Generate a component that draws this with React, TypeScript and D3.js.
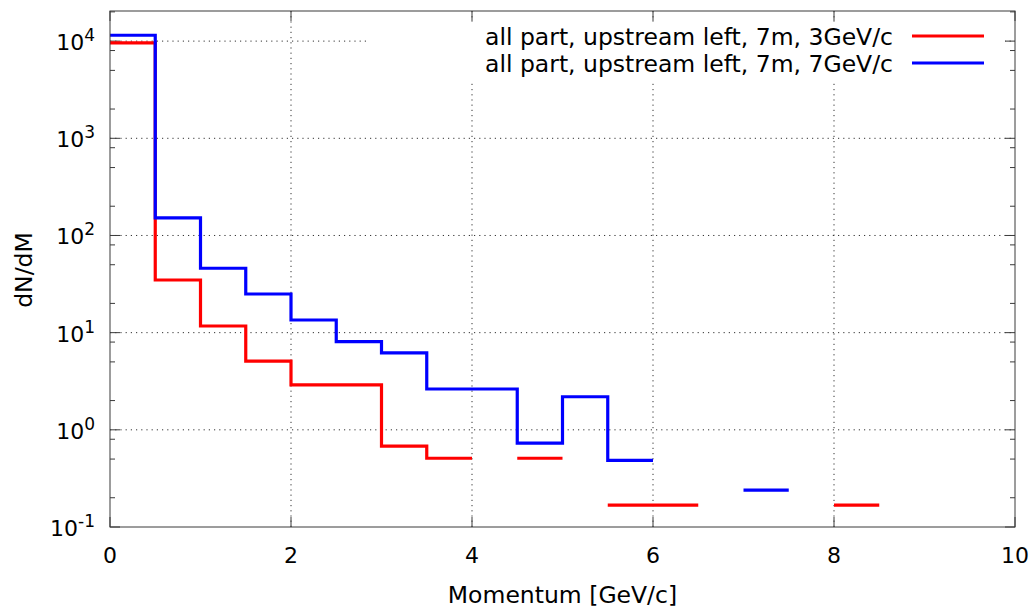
import React from "react";
import * as d3 from "d3";

// Momentum bins (lower edges, GeV/c), each 0.5 GeV/c wide
const binStarts = [0, 0.5, 1, 1.5, 2, 2.5, 3, 3.5, 4, 4.5, 5, 5.5, 6, 6.5, 7, 7.5, 8, 8.5, 9, 9.5];
const binWidth = 0.5;

// dN/dM per bin; null marks an empty bin (no entry on the log scale)
const red3GeV: (number | null)[] = [9600, 34.8, 11.7, 5.1, 2.9, 2.9, 0.68, 0.51, null, 0.51, null, 0.168, 0.168, null, null, null, 0.168, null, null, null];
const blue7GeV: (number | null)[] = [11500, 152, 46, 25, 13.5, 8.1, 6.2, 2.63, 2.63, 0.73, 2.19, 0.485, null, null, 0.24, null, null, null, null, null];

const seriesLabels = ["all part, upstream left, 7m, 3GeV/c", "all part, upstream left, 7m, 7GeV/c"];
const seriesColors = ["#ff0000", "#0000ff"];

const xTicks = [0, 2, 4, 6, 8, 10];
const yExponents = [-1, 0, 1, 2, 3, 4];
const yMinorMantissas = [2, 5, 8];

const W = 1036;
const H = 610;
const M = { left: 110, right: 1015, top: 11, bottom: 527 };
const FONT = "'DejaVu Sans', sans-serif";
const FS = 22;
const FS_TITLE = 23.5;

const x = d3.scaleLinear().domain([0, 10]).range([M.left, M.right]);
const y = d3.scaleLog().domain([0.1, 10 ** 4.31]).range([M.bottom, M.top]);

function stepPaths(values: (number | null)[]): string[] {
  const paths: string[] = [];
  let cur: string | null = null;
  values.forEach((v, i) => {
    const x0 = x(binStarts[i]);
    const x1 = x(binStarts[i] + binWidth);
    if (v == null) {
      if (cur) paths.push(cur);
      cur = null;
      return;
    }
    if (cur == null) cur = `M${x0},${y(v)}H${x1}`;
    else cur += `V${y(v)}H${x1}`;
  });
  if (cur) paths.push(cur);
  return paths;
}

export default function App() {
  const gridStroke = "#333";
  const gridDash = "1.2,4";
  const borderColor = "#3a3a3a";
  const minorVals: number[] = [];
  yExponents.forEach((e) => yMinorMantissas.forEach((m) => minorVals.push(m * 10 ** e)));
  const minors = minorVals.filter((v) => y(v) >= M.top);

  const legendBox = { x0: 370, x1: 1005, y0: 22, y1: 82 };

  return (
    <svg width={W} height={H} style={{ position: "absolute", left: 0, top: 0, background: "#fff" }} fontFamily={FONT}>
      <rect x={0} y={0} width={W} height={H} fill="#fff" />
      {/* grid */}
      <g stroke={gridStroke} strokeWidth={1} strokeDasharray={gridDash}>
        {yExponents.slice(1).map((e) => (
          <line key={"gy" + e} x1={M.left} x2={M.right} y1={y(10 ** e)} y2={y(10 ** e)} />
        ))}
        {xTicks.slice(1, -1).map((t) => (
          <line key={"gx" + t} x1={x(t)} x2={x(t)} y1={M.top} y2={M.bottom} />
        ))}
      </g>
      {/* legend background */}
      <rect x={legendBox.x0} y={legendBox.y0} width={legendBox.x1 - legendBox.x0} height={legendBox.y1 - legendBox.y0} fill="#fff" />
      {/* ticks */}
      <g stroke={borderColor} strokeWidth={1}>
        {yExponents.map((e) => (
          <g key={"ty" + e}>
            <line x1={M.left} x2={M.left + 10} y1={y(10 ** e)} y2={y(10 ** e)} />
            <line x1={M.right} x2={M.right - 10} y1={y(10 ** e)} y2={y(10 ** e)} />
          </g>
        ))}
        {minors.map((v, i) => (
          <g key={"tm" + i}>
            <line x1={M.left} x2={M.left + 5} y1={y(v)} y2={y(v)} />
            <line x1={M.right} x2={M.right - 5} y1={y(v)} y2={y(v)} />
          </g>
        ))}
        {xTicks.map((t) => (
          <g key={"tx" + t}>
            <line x1={x(t)} x2={x(t)} y1={M.bottom} y2={M.bottom - 10} />
            <line x1={x(t)} x2={x(t)} y1={M.top} y2={M.top + 10} />
          </g>
        ))}
      </g>
      {/* data */}
      <g fill="none" strokeWidth={3.2} strokeLinejoin="miter" strokeLinecap="butt">
        {stepPaths(red3GeV).map((d, i) => (
          <path key={"r" + i} d={d} stroke={seriesColors[0]} />
        ))}
        {stepPaths(blue7GeV).map((d, i) => (
          <path key={"b" + i} d={d} stroke={seriesColors[1]} />
        ))}
      </g>
      {/* border */}
      <rect x={M.left} y={M.top} width={M.right - M.left} height={M.bottom - M.top} fill="none" stroke={borderColor} strokeWidth={1} />
      {/* legend */}
      {seriesLabels.map((lab, i) => (
        <g key={"lg" + i}>
          <text x={893} y={37 + i * 27} dy="0.35em" textAnchor="end" fontSize={FS_TITLE} fill="#000">
            {lab}
          </text>
          <line x1={912} x2={984} y1={36 + i * 27} y2={36 + i * 27} stroke={seriesColors[i]} strokeWidth={3.2} />
        </g>
      ))}
      {/* x tick labels */}
      {xTicks.map((t) => (
        <text key={"lx" + t} x={x(t)} y={563} textAnchor="middle" fontSize={FS} fill="#000">
          {t}
        </text>
      ))}
      {/* y tick labels */}
      {yExponents.map((e) => (
        <text key={"ly" + e} x={95} y={y(10 ** e) + 9} textAnchor="end" fontSize={FS} fill="#000">
          10
          <tspan dy={-9} fontSize={17}>
            {e}
          </tspan>
        </text>
      ))}
      {/* axis titles */}
      <text x={(M.left + M.right) / 2} y={603} textAnchor="middle" fontSize={FS_TITLE} fill="#000">
        Momentum [GeV/c]
      </text>
      <text transform={`translate(24,270) rotate(-90)`} dy="0.35em" textAnchor="middle" fontSize={FS_TITLE} fill="#000">
        dN/dM
      </text>
    </svg>
  );
}
